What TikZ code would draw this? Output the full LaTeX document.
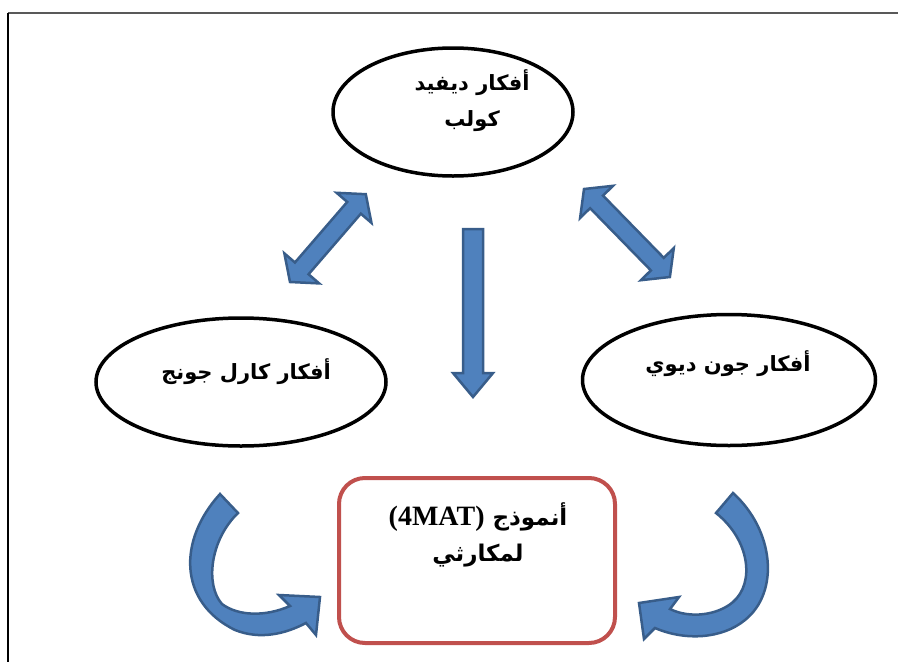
\documentclass[tikz,border=0pt]{standalone}
\usepackage{fontspec}
\usetikzlibrary{shapes.geometric,positioning}
\TeXXeTstate=1
\newfontfamily\arabicfont[Script=Arabic]{DejaVu Sans}
\newfontfamily\latinfont{Liberation Serif}
\definecolor{arrowblue}{HTML}{4F81BD}
\definecolor{arrowedge}{HTML}{385D8A}
\definecolor{boxred}{HTML}{C0504D}

\tikzset{
  idea/.style={draw, ellipse, line width=3.5pt, inner sep=0pt},
  ideatext/.style={font=\arabicfont\bfseries\fontsize{21}{36}\selectfont, align=center, inner sep=0pt},
  blockarrow/.style={fill=arrowblue, draw=arrowedge, line width=2.5pt, line join=miter},
  pics/dblarrow/.style={code={
    \draw[blockarrow] (0,0) -- (18,23) -- (18,9) -- (#1-18,9) -- (#1-18,23) -- (#1,0)
      -- (#1-18,-23) -- (#1-18,-9) -- (18,-9) -- (18,-23) -- cycle;}}
}

\begin{document}
\begin{tikzpicture}[x=1pt, y=-1pt]
		\useasboundingbox (0,0) rectangle (898,662);
		% frame
		\draw[line width=1.5pt, black!65] (8,13) -- (898,13);
		\draw[line width=2pt] (8,13) -- (8,662);

		% ideas
		\node[idea, minimum width=240, minimum height=128] (kolb) at (453,112) {};
		\node[idea, minimum width=290, minimum height=128] (jung) at (241,382) {};
		\node[idea, minimum width=293, minimum height=131] (dewey) at (729,380) {};
		\node[ideatext] (kolbtext) at (472,101) {\beginR أفكار ديفيد\endR\\\beginR كولب\endR};
		\node[ideatext] (jungtext) at (246,372) {\beginR أفكار كارل جونج\endR};
		\node[ideatext] (deweytext) at (728,364) {\beginR أفكار جون ديوي\endR};

		% 4MAT box
		\node[draw=boxred, line width=4pt, rounded corners=26pt, minimum width=276, minimum height=165] (model) at (477,560.5) {};
		\node[ideatext, font=\arabicfont\bfseries\fontsize{23}{36}\selectfont] (modeltext) at (478,535)
			{\beginR أنموذج {\latinfont\bfseries\fontsize{28}{36}\selectfont\beginL(4MAT)\endL}\endR\\\beginR لمكارثي\endR};

		% arrows
		\pic[rotate=49.2] at (290,282) {dblarrow=116};
		\pic[rotate=-45.7] at (584,189) {dblarrow=123};
		\draw[blockarrow] (463,229) -- (483,229) -- (483,373) -- (493,373) -- (473,397) -- (453,373) -- (463,373) -- cycle;

		\draw[blockarrow] (220,494) .. controls (178,540) and (178,602) .. (235,630)
			.. controls (260,640) and (285,634) .. (306,623) -- (316,635) -- (320,597) -- (279,595) -- (290,606)
			.. controls (265,617) and (238,616) .. (222,604) .. controls (205,585) and (210,540) .. (238,513) -- cycle;
		\draw[blockarrow] (733,493) .. controls (774,530) and (780,592) .. (745,620)
			.. controls (722,639) and (685,641) .. (655,628) -- (644,639) -- (639,603) -- (679,597) -- (670,609)
			.. controls (690,619) and (718,615) .. (733,602) .. controls (755,583) and (750,540) .. (716,513) -- cycle;
		\end{tikzpicture}
\end{document}
